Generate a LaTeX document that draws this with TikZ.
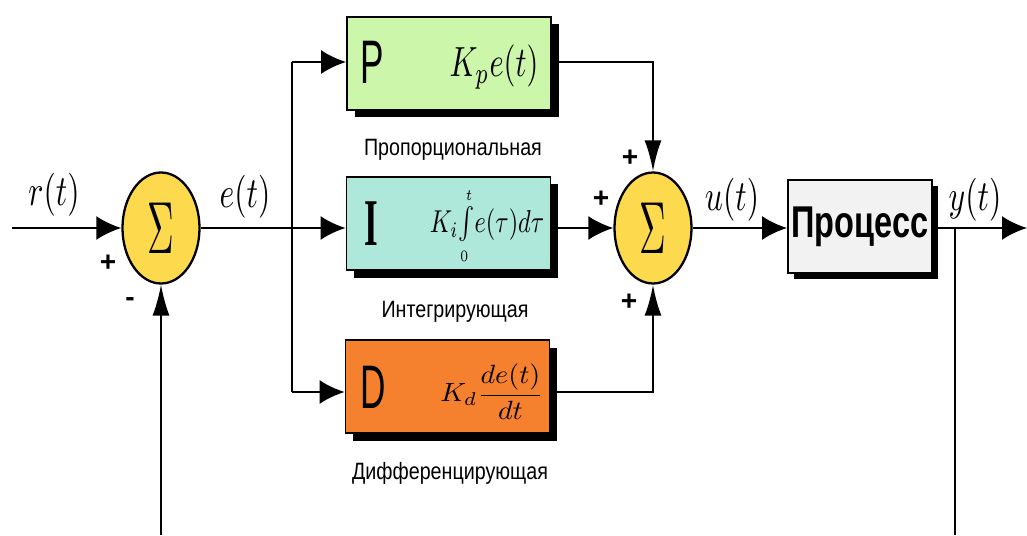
\documentclass[tikz,border=0pt]{standalone}
\usepackage[no-math]{fontspec}
\setmainfont{Liberation Sans}
\newfontfamily\serf{Liberation Serif}
\usepackage{amsmath,graphicx,xcolor}
\usetikzlibrary{shapes,shadows,calc,arrows.meta,positioning}
\definecolor{pgreen}{RGB}{204,247,170}
\definecolor{iaqua}{RGB}{174,232,218}
\definecolor{dorange}{RGB}{245,128,46}
\definecolor{sumyel}{RGB}{253,217,77}
\definecolor{procgr}{RGB}{242,242,242}
\tikzset{sumr/.style={ellipse,draw=black,line width=1.3pt,fill=sumyel,minimum width=1.54cm,minimum height=2.22cm,inner sep=0pt}}
\tikzset{blk/.style={rectangle,draw=black,line width=1pt,inner sep=0pt,minimum width=4.08cm,minimum height=1.86cm,drop shadow={shadow xshift=#1,shadow yshift=-#1,fill=black,opacity=1}},blk/.default=0.15cm}
\tikzset{wire/.style={line width=1.4pt}}
\tikzset{fbw/.style={line width=1pt}}
\tikzset{ha/.style={wire,-{Latex[length=0.5cm,width=0.48cm]}}}
\tikzset{va/.style={wire,-{Latex[length=0.62cm,width=0.34cm]}}}
\tikzset{sgn/.style={font=\fontsize{16}{16}\selectfont\bfseries,inner sep=0pt}}
\tikzset{lett/.style={font=\fontsize{20}{20}\selectfont,inner sep=0pt}}
\tikzset{frm/.style={inner sep=0pt}}
\tikzset{blkname/.style={font=\fontsize{11.2}{12}\selectfont,inner sep=0pt}}
\newcommand{\sgl}[1]{\scalebox{1.8}[2.45]{$#1$}}
\newcommand{\bigsig}{\scalebox{2.1}[4.2]{$\Sigma$}}

\begin{document}
\begin{tikzpicture}
\useasboundingbox (0,0) rectangle (20.54,10.7);

% summing junctions
\node [sumr] at (3.22,6.14) (s1) {\bigsig};
\node [sumr] at (13.06,6.14) (s2) {\bigsig};

% P, I, D blocks
\node [blk,fill=pgreen] at (8.98,9.43) (P) {};
\node [blk,fill=iaqua] at (8.97,6.23) (I) {};
\node [blk,fill=dorange] at (8.95,2.97) (D) {};
\node [blk=0.12cm,fill=procgr,minimum width=2.88cm] at (17.2,6.17) (pr)
	{\scalebox{1}[1.37]{\fontsize{18.5}{19}\selectfont\bfseries Процесс}};

\node [lett] at (7.45,9.46) (pl) {\scalebox{1}[1.75]{P}};
\node [lett] at (7.42,6.23) (il) {\scalebox{1}[1.9]{\serf\bfseries I}};
\node [lett] at (7.46,2.96) (dl) {\scalebox{1}[1.75]{D}};
\node [frm] at (9.88,9.36) (pf) {\scalebox{1.73}[2.4]{$K_p e(t)$}};
\node [frm] at (9.74,6.18) (if) {\scalebox{1.38}[1.8]{$K_i\!\int\limits_{\scriptscriptstyle 0}^{\scriptscriptstyle t}\! e(\tau)d\tau$}};
\node [frm] at (9.84,2.86) (df) {\scalebox{1.6}[1.5]{$K_d\dfrac{de(t)}{dt}$}};

\node [blkname] at (9.06,7.7) (pn) {\scalebox{1}[1.2]{Пропорциональная}};
\node [blkname] at (9.1,4.46) (in) {\scalebox{1}[1.2]{Интегрирующая}};
\node [blkname] at (9.0,1.24) (dn) {\scalebox{1}[1.2]{Дифференцирующая}};

% signals
\node at (1.08,6.8) (rt) {\sgl{r(t)}};
\node at (4.9,6.76) (et) {\sgl{e(t)}};
\node at (14.64,6.7) (ut) {\sgl{u(t)}};
\node at (19.5,6.7) (yt) {\sgl{y(t)}};

\node [sgn] at (2.16,5.44) (p1) {+};
\node [sgn] at (2.6,4.66) (m1) {-};
\node [sgn] at (12.6,7.54) (p2) {+};
\node [sgn] at (12.02,6.72) (p3) {+};
\node [sgn] at (12.58,4.66) (p4) {+};

\coordinate (r0) at (0.24,6.14);
\coordinate (jP) at (5.84,9.46);
\coordinate (jD) at (5.84,2.86);
\coordinate (yout) at (20.54,6.14);
\coordinate (fy) at (19.1,6.14);
\coordinate (fyb) at (19.1,0);
\coordinate (fr) at (3.22,0);

\draw [ha] (r0) -- (s1);
\draw [ha] (s1) -- (I.west |- s1);
\draw [wire] (jP) -- (jD);
\draw [ha] (jP) -- (jP -| P.west);
\draw [ha] (jD) -- (jD -| D.west);
\draw [va] (P.east |- jP) -| (s2.north);
\draw [ha] (I.east |- s2) -- (s2.west);
\draw [va] (D.east |- jD) -| (s2.south);
\draw [ha] (s2) -- (pr.west |- s2);
\draw [ha] (pr.east |- s2) -- (yout);
\draw [fbw] (fy) -- (fyb);
\draw [fbw,-{Latex[length=0.62cm,width=0.34cm]}] (fr) -- (s1.south);
\end{tikzpicture}
\end{document}
